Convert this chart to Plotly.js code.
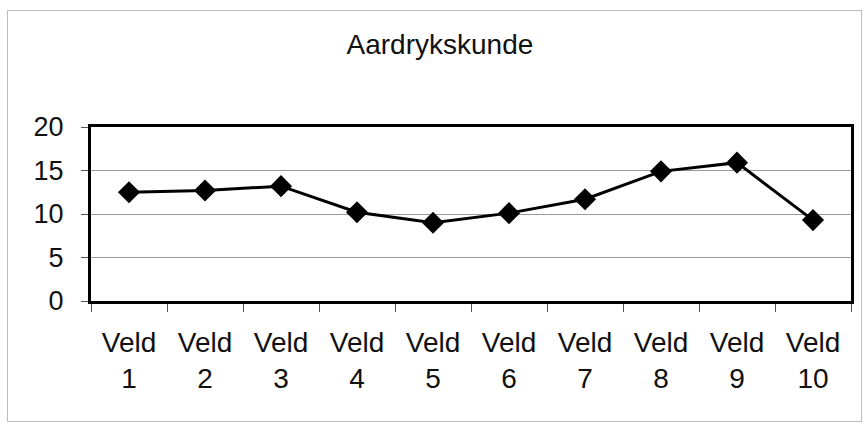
<!DOCTYPE html>
<html><head><meta charset="utf-8">
<script src="https://cdn.plot.ly/plotly-3.0.1.min.js"></script>
<style>
html,body{margin:0;padding:0;background:#fff;}
#wrap{position:relative;width:866px;height:425px;}
#chart{width:866px;height:425px;}
#frame{position:absolute;left:7px;top:10px;width:853px;height:410px;border:1px solid #bdbdbd;pointer-events:none;}
</style></head>
<body>
<div id="wrap"><div id="chart"></div><div id="frame"></div></div>
<script>
const categories = ["Veld<br>1","Veld<br>2","Veld<br>3","Veld<br>4","Veld<br>5","Veld<br>6","Veld<br>7","Veld<br>8","Veld<br>9","Veld<br>10"];
const values = [12.5, 12.7, 13.2, 10.2, 9.0, 10.1, 11.7, 14.9, 15.9, 9.3];
const yTicks = [0, 5, 10, 15, 20];
const chartTitle = "Aardrykskunde";

const font = {family: "Liberation Sans, Arial, sans-serif", color: "#111"};

Plotly.newPlot("chart", [{
  type: "scatter", mode: "lines+markers",
  x: categories, y: values,
  line: {color: "#000", width: 3},
  marker: {symbol: "diamond", size: 17, color: "#000"},
  hoverinfo: "skip"
}], {
  width: 866, height: 425,
  margin: {l: 91, r: 15, t: 127, b: 124},
  paper_bgcolor: "#fff", plot_bgcolor: "#fff",
  showlegend: false,
  font: font,
  title: {text: chartTitle, font: Object.assign({}, font, {size: 28}), x: 0.508, xanchor: "center", y: 0.895, yanchor: "middle"},
  xaxis: {
    type: "category", range: [-0.5, 9.5], tickson: "boundaries", ticks: "outside", ticklen: 8, tickcolor: "#555", tickwidth: 1,
    showgrid: false, showline: true, linecolor: "#000", linewidth: 3, mirror: true,
    tickfont: Object.assign({}, font, {size: 28}), ticklabelstandoff: 14, zeroline: false
  },
  yaxis: {
    range: [0, 20], tickvals: yTicks, ticktext: yTicks.map(String),
    ticks: "outside", ticklen: 7, tickcolor: "#555", tickwidth: 1,
    showgrid: true, gridcolor: "#9a9a9a", gridwidth: 1,
    showline: true, linecolor: "#000", linewidth: 3, mirror: true, zeroline: false,
    tickfont: Object.assign({}, font, {size: 27}), ticklabelstandoff: 12
  }
}, {displayModeBar: false, staticPlot: true});
</script>
</body></html>
